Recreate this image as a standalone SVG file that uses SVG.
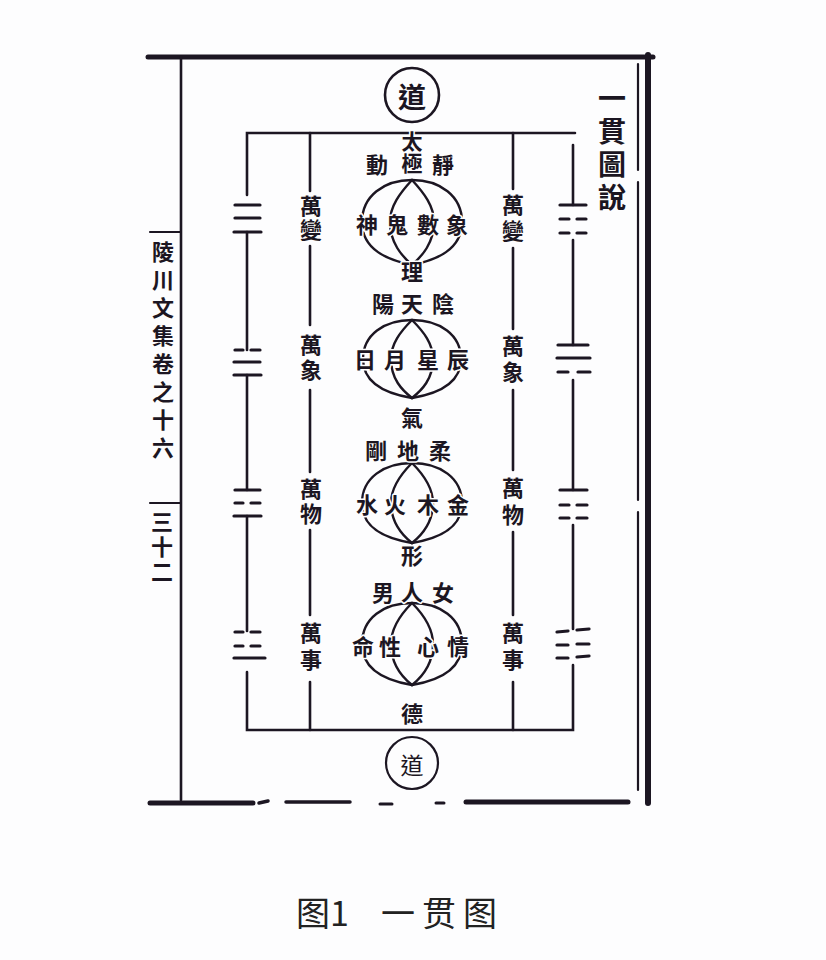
<svg xmlns="http://www.w3.org/2000/svg" width="826" height="960" viewBox="0 0 826 960">
<defs>
<style>
.bg{fill:#fdfdfe}
.ink{stroke:#1c1622;fill:none;stroke-linecap:round}
.thick{stroke-width:5}
.frame{stroke-width:2.6}
.thin{stroke-width:2.2}
.bar{stroke:#1c1622;stroke-width:3.2;stroke-linecap:round}
.curve{stroke:#1c1622;stroke-width:2.4;fill:none;stroke-linecap:round}
.ch{font-family:"Noto Sans CJK TC","Noto Sans CJK SC",serif;font-weight:700;fill:#1c1622;text-anchor:middle;dominant-baseline:central;paint-order:stroke;stroke:#fdfdfe;stroke-width:3;stroke-linejoin:round}
.v{writing-mode:vertical-rl;text-anchor:start}
.c{font-size:22px}
.side{font-size:22px}
.margin{font-size:22px}
.title{font-size:28px}
.cap{font-family:"Noto Sans CJK SC","Noto Sans CJK TC",sans-serif;font-size:34px;fill:#222;dominant-baseline:auto}
</style>
</defs>
<rect class="bg" x="0" y="0" width="826" height="960"/>

<g id="frame">
<line class="ink thick" x1="148" y1="57" x2="653" y2="57"/>
<line class="ink" style="stroke-width:6" x1="648" y1="55" x2="648" y2="803"/>
<line class="ink thin" x1="638" y1="64" x2="638" y2="170"/>
<line class="ink thin" x1="638" y1="182" x2="638" y2="500"/>
<line class="ink thin" x1="638" y1="512" x2="638" y2="790"/>
<line class="ink frame" x1="181" y1="57" x2="181" y2="800"/>
<line class="ink thin" x1="150" y1="232" x2="181" y2="232"/>
<line class="ink thin" x1="150" y1="503" x2="181" y2="503"/>
<line class="ink thick" x1="150" y1="803" x2="253" y2="803"/>
<line class="ink" style="stroke-width:3.5" x1="259" y1="803" x2="268" y2="801"/>
<line class="ink" style="stroke-width:3.5" x1="286" y1="802" x2="350" y2="802"/>
<line class="ink" style="stroke-width:3" x1="380" y1="804" x2="392" y2="804"/>
<line class="ink" style="stroke-width:3" x1="436" y1="803" x2="444" y2="803"/>
<line class="ink thick" x1="466" y1="802" x2="628" y2="802"/>
</g>

<g id="margin-text">
<text class="ch v margin" x="163" y="241" letter-spacing="6">陵川文集卷之十六</text>
<text class="ch v margin" x="162" y="511" letter-spacing="3">三十二</text>
</g>

<g id="title">
<text class="ch v title" x="612" y="84" letter-spacing="5">一貫圖說</text>
</g>

<g id="connectors">
<polyline class="ink frame" points="247,195 247,133 575,133"/>
<line class="ink frame" x1="573" y1="145" x2="573" y2="205"/>
<polyline class="ink frame" points="247,672 247,730 573,730 573,665"/>
<line class="ink frame" x1="247" y1="232" x2="247" y2="350"/>
<line class="ink frame" x1="247" y1="375" x2="247" y2="490"/>
<line class="ink frame" x1="247" y1="516" x2="247" y2="631"/>
<line class="ink frame" x1="573" y1="240" x2="573" y2="345"/>
<line class="ink frame" x1="573" y1="380" x2="573" y2="490"/>
<line class="ink frame" x1="573" y1="525" x2="573" y2="629"/>
<line class="ink frame" x1="310" y1="133" x2="310" y2="191"/>
<line class="ink frame" x1="310" y1="246" x2="310" y2="325"/>
<line class="ink frame" x1="310" y1="390" x2="310" y2="472"/>
<line class="ink frame" x1="310" y1="530" x2="310" y2="615"/>
<line class="ink frame" x1="310" y1="682" x2="310" y2="730"/>
<line class="ink frame" x1="513" y1="133" x2="513" y2="189"/>
<line class="ink frame" x1="513" y1="248" x2="513" y2="329"/>
<line class="ink frame" x1="513" y1="390" x2="513" y2="470"/>
<line class="ink frame" x1="513" y1="532" x2="513" y2="615"/>
<line class="ink frame" x1="513" y1="682" x2="513" y2="730"/>
<g id="curves1">
<path class="curve" d="M412,180 C384,180 362,196 362,222 C362,250 388,260 412,265"/>
<path class="curve" d="M412,180 C400,193 390,206 390,222 C390,243 402,256 412,265"/>
<path class="curve" d="M412,180 C440,180 462,196 462,222 C462,250 436,260 412,265"/>
<path class="curve" d="M412,180 C424,193 434,206 434,222 C434,243 422,256 412,265"/>
</g>
<g id="curves2">
<path class="curve" d="M412,320 C384,320 363,335 363,359 C363,385 388,394 412,398"/>
<path class="curve" d="M412,320 C400,332 391,344 391,359 C391,379 402,390 412,398"/>
<path class="curve" d="M412,320 C440,320 461,335 461,359 C461,385 436,394 412,398"/>
<path class="curve" d="M412,320 C424,332 433,344 433,359 C433,379 422,390 412,398"/>
</g>
<g id="curves3">
<path class="curve" d="M412,463 C384,463 362,478 362,503 C362,530 388,539 412,543"/>
<path class="curve" d="M412,463 C400,475 391,488 391,503 C391,523 402,535 412,543"/>
<path class="curve" d="M412,463 C440,463 462,478 462,503 C462,530 436,539 412,543"/>
<path class="curve" d="M412,463 C424,475 433,488 433,503 C433,523 422,535 412,543"/>
</g>
<g id="curves4">
<path class="curve" d="M412,603 C384,603 362,618 362,644 C362,671 388,681 412,685"/>
<path class="curve" d="M412,603 C400,615 391,629 391,644 C391,665 402,677 412,685"/>
<path class="curve" d="M412,603 C440,603 462,618 462,644 C462,671 436,681 412,685"/>
<path class="curve" d="M412,603 C424,615 433,629 433,644 C433,665 422,677 412,685"/>
</g>
</g>

<g id="trigrams-left">
<g id="tri-l1"><line class="bar" x1="235" y1="205" x2="260" y2="205"/><line class="bar" x1="235" y1="218" x2="260" y2="218"/><line class="bar" x1="234" y1="232" x2="261" y2="232"/></g>
<g id="tri-l2"><line class="bar" x1="235" y1="350" x2="243" y2="350"/><line class="bar" x1="251" y1="350" x2="260" y2="350"/><line class="bar" x1="234" y1="362" x2="260" y2="362"/><line class="bar" x1="234" y1="375" x2="261" y2="375"/></g>
<g id="tri-l3"><line class="bar" x1="235" y1="490" x2="260" y2="490"/><line class="bar" x1="235" y1="503" x2="243" y2="503"/><line class="bar" x1="251" y1="503" x2="260" y2="503"/><line class="bar" x1="234" y1="516" x2="261" y2="516"/></g>
<g id="tri-l4"><line class="bar" x1="235" y1="632" x2="243" y2="632"/><line class="bar" x1="251" y1="632" x2="260" y2="632"/><line class="bar" x1="235" y1="646" x2="243" y2="646"/><line class="bar" x1="251" y1="646" x2="260" y2="646"/><line class="bar" x1="234" y1="658" x2="265" y2="658"/></g>
</g>

<g id="trigrams-right">
<g id="tri-r1"><line class="bar" x1="560" y1="205" x2="586" y2="205"/><line class="bar" x1="560" y1="219" x2="569" y2="219"/><line class="bar" x1="577" y1="219" x2="586" y2="219"/><line class="bar" x1="560" y1="233" x2="569" y2="233"/><line class="bar" x1="577" y1="233" x2="586" y2="233"/></g>
<g id="tri-r2"><line class="bar" x1="558" y1="345" x2="588" y2="345"/><line class="bar" x1="557" y1="358" x2="590" y2="358"/><line class="bar" x1="558" y1="372" x2="568" y2="372"/><line class="bar" x1="578" y1="372" x2="590" y2="372"/></g>
<g id="tri-r3"><line class="bar" x1="560" y1="490" x2="587" y2="490"/><line class="bar" x1="560" y1="505" x2="569" y2="505"/><line class="bar" x1="577" y1="505" x2="587" y2="505"/><line class="bar" x1="560" y1="518" x2="569" y2="518"/><line class="bar" x1="577" y1="518" x2="587" y2="518"/></g>
<g id="tri-r4"><line class="bar" x1="557" y1="632" x2="568" y2="631"/><line class="bar" x1="577" y1="630" x2="589" y2="629"/><line class="bar" x1="557" y1="645" x2="568" y2="645"/><line class="bar" x1="577" y1="644" x2="589" y2="644"/><line class="bar" x1="557" y1="658" x2="568" y2="658"/><line class="bar" x1="577" y1="657" x2="589" y2="656"/></g>
</g>

<g id="wan-left">
<text id="wanbian-l" class="ch v side" x="311" y="195" letter-spacing="2">萬變</text>
<text id="wanxiang-l" class="ch v side" x="311" y="334" letter-spacing="3">萬象</text>
<text id="wanwu-l" class="ch v side" x="311" y="478" letter-spacing="3">萬物</text>
<text id="wanshi-l" class="ch v side" x="311" y="622" letter-spacing="5">萬事</text>
</g>
<g id="wan-right">
<text id="wanbian-r" class="ch v side" x="513" y="194" letter-spacing="4">萬變</text>
<text id="wanxiang-r" class="ch v side" x="513" y="335" letter-spacing="4">萬象</text>
<text id="wanwu-r" class="ch v side" x="513" y="477" letter-spacing="5">萬物</text>
<text id="wanshi-r" class="ch v side" x="513" y="622" letter-spacing="5">萬事</text>
</g>

<g id="node-dao-top">
<circle class="ink" style="stroke-width:2.6" cx="412" cy="95" r="27"/>
<text class="ch" style="font-size:28px" x="412" y="96">道</text>
</g>
<g id="node-taiji">
<text class="ch v" style="font-size:21px" x="412" y="131" letter-spacing="1">太極</text>
<text class="ch c" x="377" y="163">動</text>
<text class="ch c" x="443" y="163">靜</text>
</g>
<g id="node-row1">
<text class="ch c" x="367" y="223">神</text>
<text class="ch c" x="397" y="223">鬼</text>
<text class="ch c" x="428" y="223">數</text>
<text class="ch c" x="457" y="223">象</text>
</g>
<g id="node-li">
<text class="ch c" x="412" y="270">理</text>
<text class="ch c" x="383" y="302">陽</text>
<text class="ch c" x="412" y="302">天</text>
<text class="ch c" x="443" y="302">陰</text>
</g>
<g id="node-row2">
<text class="ch c" x="365" y="358">日</text>
<text class="ch c" x="395" y="358">月</text>
<text class="ch c" x="428" y="358">星</text>
<text class="ch c" x="458" y="358">辰</text>
</g>
<g id="node-qi">
<text class="ch c" x="412" y="416">氣</text>
<text class="ch c" x="376" y="449">剛</text>
<text class="ch c" x="408" y="449">地</text>
<text class="ch c" x="440" y="449">柔</text>
</g>
<g id="node-row3">
<text class="ch c" x="367" y="503">水</text>
<text class="ch c" x="395" y="503">火</text>
<text class="ch c" x="428" y="503">木</text>
<text class="ch c" x="458" y="503">金</text>
</g>
<g id="node-xing">
<text class="ch c" x="412" y="554">形</text>
<text class="ch c" x="383" y="591">男</text>
<text class="ch c" x="412" y="590">人</text>
<text class="ch c" x="443" y="591">女</text>
</g>
<g id="node-row4">
<text class="ch c" x="363" y="645">命</text>
<text class="ch c" x="390" y="645">性</text>
<text class="ch c" x="428" y="645">心</text>
<text class="ch c" x="458" y="645">情</text>
</g>
<g id="node-de">
<text class="ch c" x="412" y="712">德</text>
</g>
<g id="node-dao-bottom">
<circle class="ink" style="stroke-width:2.2" cx="412" cy="763" r="26"/>
<text class="ch" style="font-size:23px;font-weight:400" x="412" y="764">道</text>
</g>

<g id="caption">
<text class="cap" x="296" y="926">图1</text>
<text class="cap" x="381" y="926" letter-spacing="7">一贯图</text>
</g>
</svg>
